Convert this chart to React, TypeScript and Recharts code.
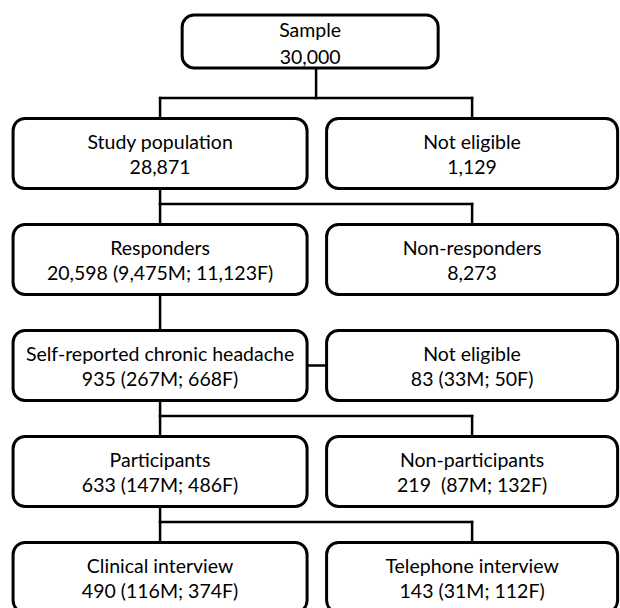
import { ScatterChart, Scatter, XAxis, YAxis, ReferenceLine } from "recharts";

// main stream (left column, sample on top)
const stageLabels = [
  "Sample",
  "Study population",
  "Responders",
  "Self-reported chronic headache",
  "Participants",
  "Clinical interview",
];
const stageCounts = [
  "30,000",
  "28,871",
  "20,598 (9,475M; 11,123F)",
  "935 (267M; 668F)",
  "633 (147M; 486F)",
  "490 (116M; 374F)",
];

// side boxes (right column, one per stage after the sample)
const sideLabels = [
  "Not eligible",
  "Non-responders",
  "Not eligible",
  "Non-participants",
  "Telephone interview",
];
const sideCounts = ["1,129", "8,273", "83 (33M; 50F)", "219  (87M; 132F)", "143 (31M; 112F)"];
// true where the side box hangs off the stage box sideways instead of branching
const sideLateral = [false, false, true, false, false];

const W = 620;
const H = 608;
const BOX_H = 0.33; // half height in row units
const SAMPLE_H = 0.25;
const SAMPLE_X = 0.481;
const SAMPLE_Y = -0.057;
const BOX_W = 0.471; // half width in column units
const GAP = 0.193;

type Node = { x: number; y: number; label: string; count: string; kind: string };

const nodes: Node[] = [
  ...stageLabels.map((label, i) => ({
    x: i === 0 ? SAMPLE_X : 0,
    y: i === 0 ? SAMPLE_Y : i,
    label,
    count: stageCounts[i],
    kind: i === 0 ? "sample" : "main",
  })),
  ...sideLabels.map((label, i) => ({ x: 1, y: i + 1, label, count: sideCounts[i], kind: "side" })),
];

type Seg = [{ x: number; y: number }, { x: number; y: number }];
const segments: Seg[] = [];
sideLateral.forEach((lat, i) => {
  const r = i + 1;
  const px = r === 1 ? 0.5 : 0;
  const pb = r === 1 ? SAMPLE_Y + SAMPLE_H : r - 1 + BOX_H;
  if (lat) {
    segments.push([{ x: 0, y: pb }, { x: 0, y: r - BOX_H }]);
    segments.push([{ x: BOX_W, y: r }, { x: 1 - BOX_W + 0.064, y: r }]);
  } else {
    const by = r - BOX_H - GAP;
    segments.push([{ x: px, y: pb }, { x: px, y: by }]);
    segments.push([{ x: 0, y: by }, { x: 1, y: by }]);
    segments.push([{ x: 0, y: by }, { x: 0, y: r - BOX_H }]);
    segments.push([{ x: 1, y: by }, { x: 1, y: r - BOX_H }]);
  }
});

function FlowBox(props: any) {
  const { cx, cy, payload } = props;
  const sample = payload.kind === "sample";
  const w = sample ? 256 : payload.kind === "side" ? 291 : 294;
  const h = sample ? 53 : 70;
  const fs = 19.5;
  return (
    <g>
      <rect
        x={cx - w / 2}
        y={cy - h / 2}
        width={w}
        height={h}
        rx={12}
        ry={12}
        fill="#fff"
        stroke="#000"
        strokeWidth={3}
      />
      <text
        x={cx}
        y={cy - 11.5}
        textAnchor="middle"
        dominantBaseline="central"
        fontSize={fs}
        fill="#000"
        style={{ whiteSpace: "pre" }}
      >
        {payload.label}
      </text>
      <text
        x={cx}
        y={cy + (sample ? 15 : 13.5)}
        textAnchor="middle"
        dominantBaseline="central"
        fontSize={fs}
        fill="#000"
        style={{ whiteSpace: "pre" }}
      >
        {payload.count}
      </text>
    </g>
  );
}

export default function App() {
  return (
    <div style={{ position: "absolute", left: 0, top: 0, background: "#fff", fontFamily: "Lato, sans-serif" }}>
      <ScatterChart width={W} height={H} margin={{ top: 0, right: 0, bottom: 0, left: 0 }}>
        <XAxis type="number" dataKey="x" domain={[-0.513, 1.474]} allowDataOverflow hide />
        <YAxis type="number" dataKey="y" domain={[-0.448, 5.288]} allowDataOverflow reversed hide />
        {segments.map((s, i) => (
          <ReferenceLine
            key={i}
            segment={s}
            stroke="#000"
            strokeWidth={2.5}
            strokeLinecap="square"
            ifOverflow="visible"
          />
        ))}
        <Scatter data={nodes} shape={FlowBox} isAnimationActive={false} />
      </ScatterChart>
    </div>
  );
}
